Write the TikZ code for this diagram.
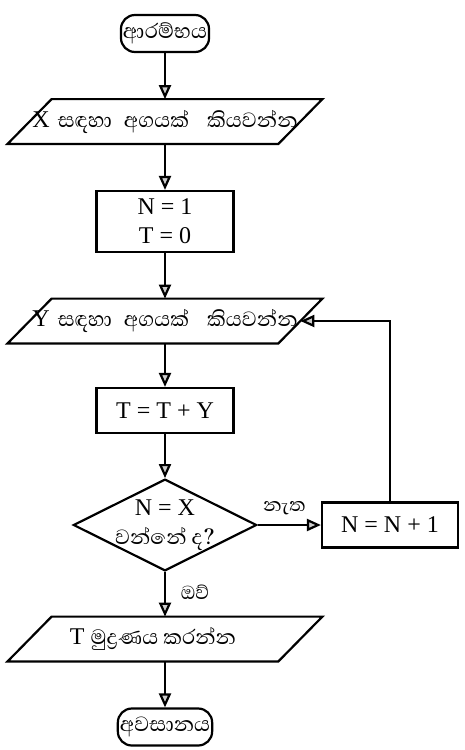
\documentclass[tikz,border=0pt]{standalone}
\usepackage{fontspec}
\setmainfont{Liberation Serif}
\newfontfamily\slfont[Script=Sinhala,Scale=1.1]{Abhaya Libre}
\usepackage{tikz}
\usetikzlibrary{arrows.meta,positioning,shapes.geometric}
\newcommand{\sn}[1]{{\slfont #1}}

\begin{document}
\begin{tikzpicture}[
  x=0.5pt, y=-0.5pt,
  font=\fontsize{12}{14.5}\selectfont,
  on grid,
  termbox/.style={rectangle, rounded corners=7pt, draw, line width=1.1pt, minimum width=44pt, minimum height=18.5pt, inner sep=1pt},
  iobox/.style={rectangle, minimum width=135pt, minimum height=22pt, inner sep=0pt},
  iopath/.style={line width=1.1pt, line join=miter},
  procbox/.style={rectangle, draw, line width=1.1pt, minimum width=68.5pt, minimum height=22.5pt, align=center},
  decbox/.style={diamond, aspect=2, draw, line width=1.1pt, minimum width=89pt, minimum height=43pt, inner sep=-1.5pt, align=center},
  arr/.style={-{Triangle[length=7pt, width=6pt, fill=gray!40]}, line width=1.1pt},
  label/.style={font=\fontsize{11}{13}\selectfont}
]
\useasboundingbox (0,0) rectangle (465,750);

% Main column
\node[termbox] (start) at (165,33.5) {\sn{ආරම්භය}};
\node[iobox, below=44pt of start] (readx) {X\hspace{4pt}\sn{සඳහා\hspace{6pt}අගයක්\hspace{9pt}කියවන්න}};
\node[procbox, minimum height=30.5pt, below=50pt of readx] (init) {N = 1\\T = 0};
\node[iobox, below=49.75pt of init] (ready) {Y\hspace{4pt}\sn{සඳහා\hspace{6pt}අගයක්\hspace{9pt}කියවන්න}};
\node[procbox, below=44.75pt of ready] (sum) {T = T + Y};
\node[decbox, below=57.25pt of sum] (test) {N = X\\\sn{වන්නේ ද?}};
\node[iobox, below=57pt of test] (print) {T \sn{මුද්^^^^200dරණය කරන්න}\hspace*{12pt}};
\node[termbox, minimum width=44.5pt, below=44pt of print] (stop) {\sn{අවසානය}};

% Input/output boxes (slanted)
\foreach \n in {readx,ready,print}
  \draw[iopath] ([xshift=11pt]\n.north west) -- ([xshift=11pt]\n.north east)
    -- ([xshift=-11pt]\n.south east) -- ([xshift=-11pt]\n.south west) -- cycle;

% Loop
\node[procbox, minimum width=68pt, right=112.5pt of test] (inc) {N = N + 1};

% Arrows
\draw[arr] (start) -- (readx);
\draw[arr] (readx) -- (init);
\draw[arr] (init) -- (ready);
\draw[arr] (ready) -- (sum);
\draw[arr] (sum) -- (test);
\draw[arr] (test) -- node[pos=0.42, above=1pt, label] {\sn{නැත}} (inc);
\draw[arr] (inc.north) |- (ready.east);
\draw[arr] (test) -- node[pos=0.45, right=4pt, label] {\sn{ඔව්}} (print);
\draw[arr] (print) -- (stop);

\end{tikzpicture}
\end{document}
